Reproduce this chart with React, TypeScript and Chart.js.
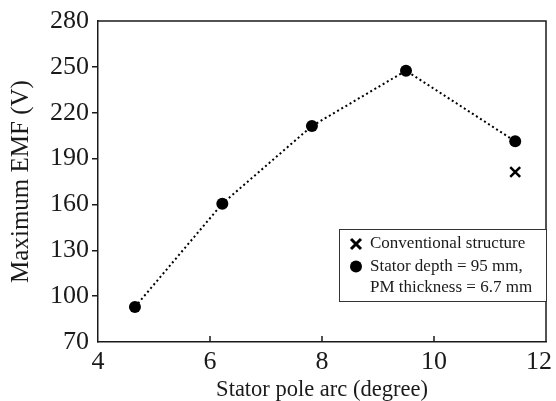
import React, { useEffect, useRef } from "react";
import { Chart, registerables } from "chart.js";

Chart.register(...registerables);

const poleArc = [4.66, 6.22, 7.82, 9.5, 11.45];
const emfProposed = [92.9, 160.5, 211.3, 247.5, 201.3];
const convPoleArc = [11.45];
const emfConventional = [181.2];
const xTicks = [4, 6, 8, 10, 12];
const yTicks = [70, 100, 130, 160, 190, 220, 250, 280];
const legendLabels = ["Conventional structure", "Stator depth = 95 mm,", "PM thickness = 6.7 mm"];

const FONT = '"Liberation Serif", "Times New Roman", serif';
const INK = "#1a1a1a";

const framePlugin = {
  id: "frameAndLegend",
  afterDraw(chart: any) {
    const { ctx, chartArea, width } = chart;
    const { left, right, top, bottom } = chartArea;
    ctx.save();
    ctx.strokeStyle = INK;
    ctx.lineWidth = 1.5;
    ctx.beginPath();
    ctx.moveTo(left, top);
    ctx.lineTo(right, top);
    ctx.lineTo(right, bottom);
    ctx.stroke();
    const xs = chart.scales.x;
    ctx.lineWidth = 1.5;
    ctx.beginPath();
    xTicks.slice(1, -1).forEach((v) => {
      const px = xs.getPixelForValue(v);
      ctx.moveTo(px, bottom);
      ctx.lineTo(px, bottom - 6);
    });
    ctx.stroke();

    // x tick labels, kept inside the canvas
    ctx.font = `26px ${FONT}`;
    ctx.fillStyle = INK;
    ctx.textAlign = "center";
    ctx.textBaseline = "alphabetic";
    xTicks.forEach((v) => {
      const label = String(v);
      const half = ctx.measureText(label).width / 2;
      const px = Math.min(xs.getPixelForValue(v), width - half - 4);
      ctx.fillText(label, px, bottom + 27);
    });

    const bw = 207;
    const bh = 72;
    const bx = right - bw;
    const by = top + 208;
    ctx.fillStyle = "#fff";
    ctx.fillRect(bx, by, bw, bh);
    ctx.strokeStyle = "#333";
    ctx.lineWidth = 1;
    ctx.strokeRect(bx + 0.5, by + 0.5, bw, bh);

    const rows = [by + 15, by + 37.4, by + 59];
    const mx = bx + 17;
    ctx.strokeStyle = "#000";
    ctx.lineWidth = 3;
    const c = 5;
    ctx.beginPath();
    ctx.moveTo(mx - c, rows[0] - c);
    ctx.lineTo(mx + c, rows[0] + c);
    ctx.moveTo(mx + c, rows[0] - c);
    ctx.lineTo(mx - c, rows[0] + c);
    ctx.stroke();
    ctx.fillStyle = "#000";
    ctx.beginPath();
    ctx.arc(mx, rows[1], 6, 0, Math.PI * 2);
    ctx.fill();

    ctx.font = `17px ${FONT}`;
    ctx.textBaseline = "middle";
    ctx.textAlign = "left";
    ctx.fillStyle = INK;
    legendLabels.forEach((t, i) => ctx.fillText(t, bx + 31, rows[i]));
    ctx.restore();
  },
};

export default function App() {
  const ref = useRef<HTMLCanvasElement>(null);
  useEffect(() => {
    document.body.style.margin = "0";
    const canvas = ref.current!;
    const chart = new Chart(canvas, {
      type: "scatter",
      data: {
        datasets: [
          {
            label: legendLabels[0],
            data: convPoleArc.map((x, i) => ({ x, y: emfConventional[i] })),
            pointStyle: "crossRot",
            pointRadius: 7,
            pointBorderWidth: 2.5,
            borderColor: "#000",
            backgroundColor: "#000",
            showLine: false,
          },
          {
            label: legendLabels[1] + " " + legendLabels[2],
            data: poleArc.map((x, i) => ({ x, y: emfProposed[i] })),
            pointStyle: "circle",
            pointRadius: 6,
            pointBorderWidth: 0,
            borderColor: "#000",
            backgroundColor: "#000",
            borderWidth: 2,
            showLine: true,
            borderDash: [2, 2.8],
            tension: 0,
          } as any,
        ],
      },
      options: {
        animation: false,
        responsive: false,
        layout: { autoPadding: false, padding: { left: 0, top: 21, right: 10, bottom: 0 } } as any,
        plugins: { legend: { display: false }, tooltip: { enabled: false } },
        scales: {
          x: {
            type: "linear",
            min: 4,
            max: 12,
            afterFit: (s: any) => { s.height = 59; s.paddingRight = 0; s.paddingLeft = 0; },
            afterBuildTicks: (s: any) => { s.ticks = xTicks.map((v) => ({ value: v })); },
            grid: { display: false, drawTicks: false },
            border: { display: true, color: INK, width: 1.5 },
            ticks: { display: false },
            title: {
              display: true,
              text: "Stator pole arc (degree)",
              color: INK,
              font: { family: FONT, size: 22.5, lineHeight: 1 },
              padding: { top: 0, bottom: 0 },
            },
          },
          y: {
            type: "linear",
            min: 70,
            max: 280,
            afterFit: (s: any) => { s.width = 98; },
            afterBuildTicks: (s: any) => { s.ticks = yTicks.map((v) => ({ value: v })); },
            grid: {
              display: true,
              drawOnChartArea: false,
              drawTicks: true,
              tickLength: 6,
              lineWidth: 1.5,
              color: (c: any) => (c.tick && (c.tick.value === 70 || c.tick.value === 280) ? "rgba(0,0,0,0)" : INK),
            },
            border: { display: true, color: INK, width: 1.5 },
            ticks: { color: INK, font: { family: FONT, size: 26 }, padding: 3 },
            title: {
              display: true,
              text: "Maximum EMF (V)",
              color: INK,
              font: { family: FONT, size: 25, lineHeight: 1.2 },
              padding: { top: 6, bottom: 0 },
            },
          },
        },
      },
      plugins: [framePlugin],
    });
    return () => chart.destroy();
  }, []);
  return <canvas ref={ref} width={556} height={401} style={{ display: "block" }} />;
}
